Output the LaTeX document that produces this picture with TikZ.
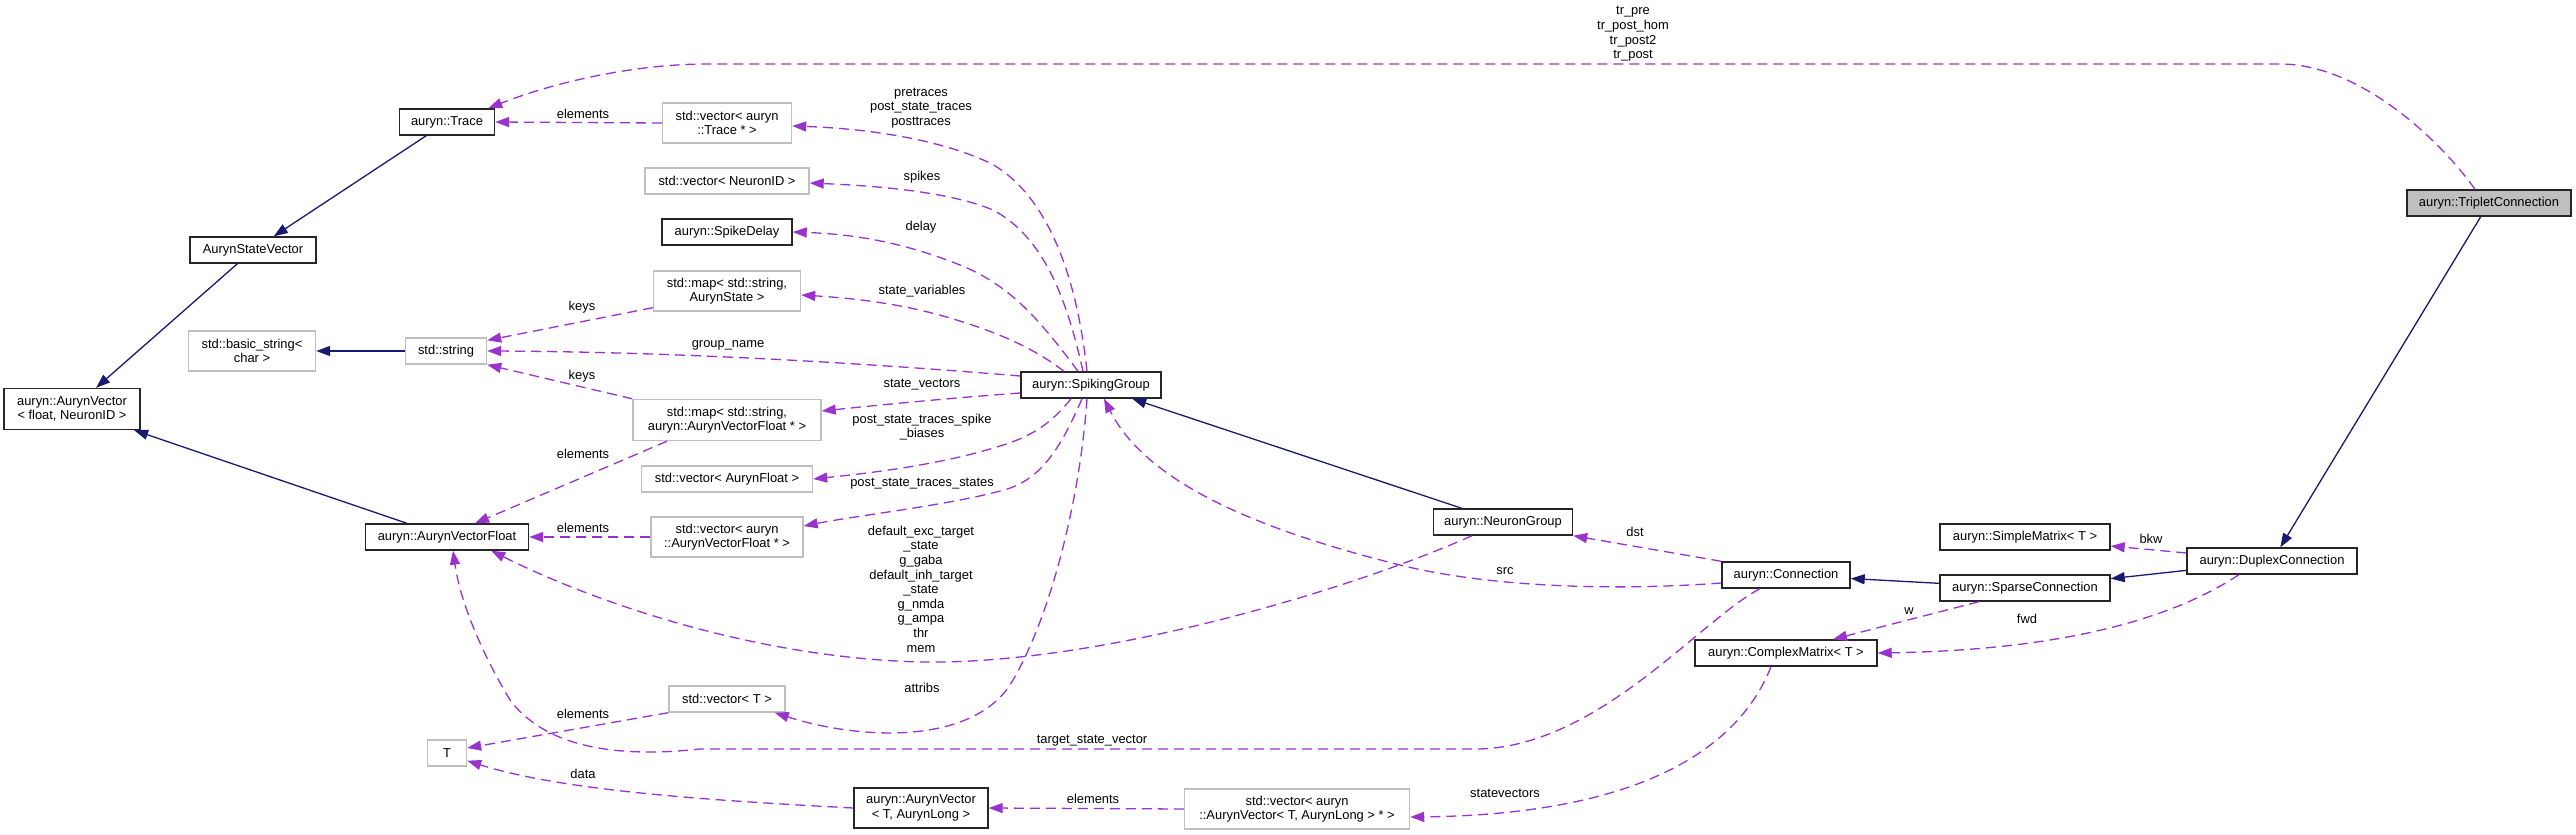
\documentclass[tikz,border=0pt]{standalone}
\usepackage{fontspec}
\setmainfont{Liberation Sans}
\usetikzlibrary{arrows.meta}
\definecolor{navyedge}{RGB}{25,25,112}
\definecolor{orch}{RGB}{154,50,205}
\definecolor{boxgray}{RGB}{191,191,191}
\newcommand{\dxfont}{\fontsize{12.9pt}{14.6pt}\selectfont}
\tikzset{
  box/.style={line width=1.4pt, fill=white, font=\dxfont, align=center, inner sep=0pt, minimum height=26pt},
  docbox/.style={box, draw=black!85},
  udbox/.style={box, draw=boxgray},
  two/.style={minimum height=40pt},
  inh/.style={draw=navyedge, line width=1.3pt, -{Triangle[length=14pt,width=10pt]}},
  dep/.style={draw=orch, line width=1.3pt, dash pattern=on 10pt off 6pt, -{Triangle[length=14pt,width=10pt]}},
  lbl/.style={font=\dxfont, align=center, inner sep=0pt}
}
\begin{document}
\begin{tikzpicture}[x=1pt,y=1pt]
\fill[white] (0,0) rectangle (2576,-835);
\useasboundingbox (0,0) rectangle (2576,-835);
% nodes
\node[docbox, fill=boxgray, minimum width=164pt] (trip) at (2489,-203) {auryn::TripletConnection};
\node[docbox, minimum width=170pt] (dup) at (2272,-561) {auryn::DuplexConnection};
\node[docbox, minimum width=170pt] (sparse) at (2025,-588) {auryn::SparseConnection};
\node[docbox, minimum width=170pt] (simple) at (2025,-537) {auryn::SimpleMatrix< T >};
\node[docbox, minimum width=128pt] (conn) at (1786,-575) {auryn::Connection};
\node[docbox, minimum width=182pt] (cm) at (1786,-653) {auryn::ComplexMatrix< T >};
\node[docbox, minimum width=139pt] (ng) at (1503,-522) {auryn::NeuronGroup};
\node[docbox, minimum width=140pt] (sg) at (1091,-385) {auryn::SpikingGroup};
\node[docbox, minimum width=95pt] (trace) at (447,-122) {auryn::Trace};
\node[docbox, minimum width=126pt] (asv) at (253,-250) {AurynStateVector};
\node[docbox, two, minimum width=136pt, minimum height=41pt] (avfloat) at (72,-409) {auryn::AurynVector\\< float, NeuronID >};
\node[udbox, two, minimum width=127pt] (bstr) at (252,-351) {std::basic\_string<\\char >};
\node[udbox, minimum width=81pt] (str) at (446,-351) {std::string};
\node[udbox, two, minimum width=129pt] (vtrace) at (727,-123) {std::vector< auryn\\::Trace * >};
\node[udbox, minimum width=164pt] (vnid) at (727,-181) {std::vector< NeuronID >};
\node[docbox, minimum width=130pt] (sd) at (727,-232) {auryn::SpikeDelay};
\node[udbox, two, minimum width=147pt] (mapas) at (727,-291) {std::map< std::string,\\AurynState >};
\node[udbox, two, minimum width=188pt, minimum height=41pt] (mapvf) at (727,-420) {std::map< std::string,\\auryn::AurynVectorFloat * >};
\node[udbox, minimum width=171pt] (vaf) at (727,-479) {std::vector< AurynFloat >};
\node[udbox, two, minimum width=152pt] (vavf) at (727,-537) {std::vector< auryn\\::AurynVectorFloat * >};
\node[docbox, minimum width=163pt] (avf) at (447,-537) {auryn::AurynVectorFloat};
\node[udbox, minimum width=116pt] (vt) at (727,-699) {std::vector< T >};
\node[udbox, minimum width=39pt] (tt) at (447,-753) {T};
\node[docbox, two, minimum width=134pt] (avt) at (921,-808) {auryn::AurynVector\\< T, AurynLong >};
\node[udbox, two, minimum width=225pt] (vavt) at (1297,-809) {std::vector< auryn\\::AurynVector< T, AurynLong > * >};
% inheritance
\draw[inh] (trace) -- (asv);
\draw[inh] (asv) -- (avfloat);
\draw[inh] (avf) -- (avfloat);
\draw[inh] (str) -- (bstr);
\draw[inh] (ng) -- (sg);
\draw[inh] (sparse) -- (conn);
\draw[inh] (dup) -- (sparse);
\draw[inh] (trip) -- (dup);
% usage
\draw[dep] ([xshift=-14pt]trip.north) .. controls (2440,-140) and (2360,-64) .. (2280,-64) -- (707,-64) .. controls (640,-64) and (560,-80) .. ([xshift=-7pt]trace.north east);
\node[lbl] (l1) at (1633,-34) {tr\_pre\\tr\_post\_hom\\tr\_post2\\tr\_post};
\draw[dep] (vtrace.west) -- (trace.east);
\node[lbl] (l2) at (583,-114) {elements};
\draw[dep] ([xshift=-4pt]sg.north) .. controls (1075,-260) and (1040,-190) .. (990,-163) .. controls (930,-135) and (850,-128) .. ([yshift=-3pt]vtrace.east);
\node[lbl] (l3) at (921,-108) {pretraces\\post\_state\_traces\\posttraces};
\draw[dep] ([xshift=-8pt]sg.north) .. controls (1065,-290) and (1040,-235) .. (993,-210) .. controls (950,-192) and (880,-186) .. ([yshift=-2pt]vnid.east);
\node[lbl] (l4) at (922,-177) {spikes};
\draw[dep] ([xshift=-13pt]sg.north) .. controls (1040,-320) and (1010,-285) .. (960,-265) .. controls (900,-241) and (850,-234) .. (sd.east);
\node[lbl] (l5) at (921,-227) {delay};
\draw[dep] ([xshift=-27pt]sg.north) .. controls (1030,-345) and (990,-330) .. (950,-318) .. controls (900,-303) and (850,-298) .. ([yshift=-4pt]mapas.east);
\node[lbl] (l6) at (922,-291) {state\_variables};
\draw[dep] ([yshift=9pt]sg.west) .. controls (900,-366) and (700,-352) .. (str.east);
\node[lbl] (l7) at (728,-345) {group\_name};
\draw[dep] ([yshift=4pt]mapas.south west) -- ([yshift=-3pt]str.north east);
\node[lbl] (l8) at (582,-307) {keys};
\draw[dep] (mapvf.north west) -- (str.south east);
\node[lbl] (l9) at (582,-376) {keys};
\draw[dep] ([yshift=-8pt]sg.west) .. controls (950,-398) and (880,-405) .. ([yshift=9pt]mapvf.east);
\node[lbl] (l10) at (922,-385) {state\_vectors};
\draw[dep] ([xshift=-60pt]mapvf.south) -- ([xshift=28pt]avf.north);
\node[lbl] (l11) at (583,-454) {elements};
\draw[dep] ([xshift=-20pt]sg.south) .. controls (1050,-425) and (1030,-437) .. (1000,-446) .. controls (940,-465) and (870,-473) .. (vaf.east);
\node[lbl] (l12) at (922,-427) {post\_state\_traces\_spike\\\_biases};
\draw[dep] ([xshift=-9pt]sg.south) .. controls (1060,-450) and (1040,-480) .. (1004,-490) .. controls (950,-505) and (860,-515) .. ([yshift=11pt]vavf.east);
\node[lbl] (l13) at (922,-484) {post\_state\_traces\_states};
\draw[dep] (vavf.west) -- (avf.east);
\node[lbl] (l14) at (583,-528) {elements};
\draw[dep] ([xshift=-31pt]ng.south) .. controls (1350,-590) and (1100,-665) .. (921,-662) .. controls (760,-658) and (600,-605) .. ([xshift=-38pt]avf.south east);
\node[lbl] (l15) at (921,-589) {default\_exc\_target\\\_state\\g\_gaba\\default\_inh\_target\\\_state\\g\_nmda\\g\_ampa\\thr\\mem};
\draw[dep] ([yshift=-8pt]conn.west) .. controls (1600,-592) and (1480,-585) .. (1400,-565) .. controls (1280,-535) and (1150,-490) .. ([xshift=13pt]sg.south);
\node[lbl] (l16) at (1505,-571) {src};
\draw[dep] (conn.north west) -- (ng.south east);
\node[lbl] (l17) at (1635,-532) {dst};
\draw[dep] ([xshift=-4pt]sg.south) .. controls (1080,-500) and (1050,-620) .. (1010,-685) .. controls (970,-745) and (860,-740) .. ([xshift=-11pt]vt.south east);
\node[lbl] (l18) at (922,-688) {attribs};
\draw[dep] (vt.south west) -- ([yshift=5pt]tt.east);
\node[lbl] (l19) at (583,-714) {elements};
\draw[dep] ([xshift=-26pt]conn.south) .. controls (1700,-620) and (1600,-745) .. (1480,-749) -- (700,-749) .. controls (600,-760) and (540,-740) .. (510,-700) .. controls (480,-650) and (460,-600) .. ([xshift=6pt]avf.south);
\node[lbl] (l20) at (1092,-741) {target\_state\_vector};
\draw[dep] (avt.west) .. controls (700,-800) and (560,-790) .. ([yshift=6pt]tt.south east);
\node[lbl] (l21) at (583,-774) {data};
\draw[dep] (vavt.west) -- (avt.east);
\node[lbl] (l22) at (1093,-799) {elements};
\draw[dep] ([xshift=-15pt]cm.south) .. controls (1730,-770) and (1600,-815) .. ([yshift=-8pt]vavt.east);
\node[lbl] (l23) at (1505,-793) {statevectors};
\draw[dep] ([xshift=-46pt]sparse.south) -- ([xshift=47pt]cm.north);
\node[lbl] (l24) at (1909,-611) {w};
\draw[dep] ([xshift=-33pt]dup.south) .. controls (2170,-620) and (2060,-650) .. (cm.east);
\node[lbl] (l25) at (2027,-619) {fwd};
\draw[dep] ([yshift=8pt]dup.west) -- ([yshift=-9pt]simple.east);
\node[lbl] (l26) at (2151,-539) {bkw};
\end{tikzpicture}
\end{document}
